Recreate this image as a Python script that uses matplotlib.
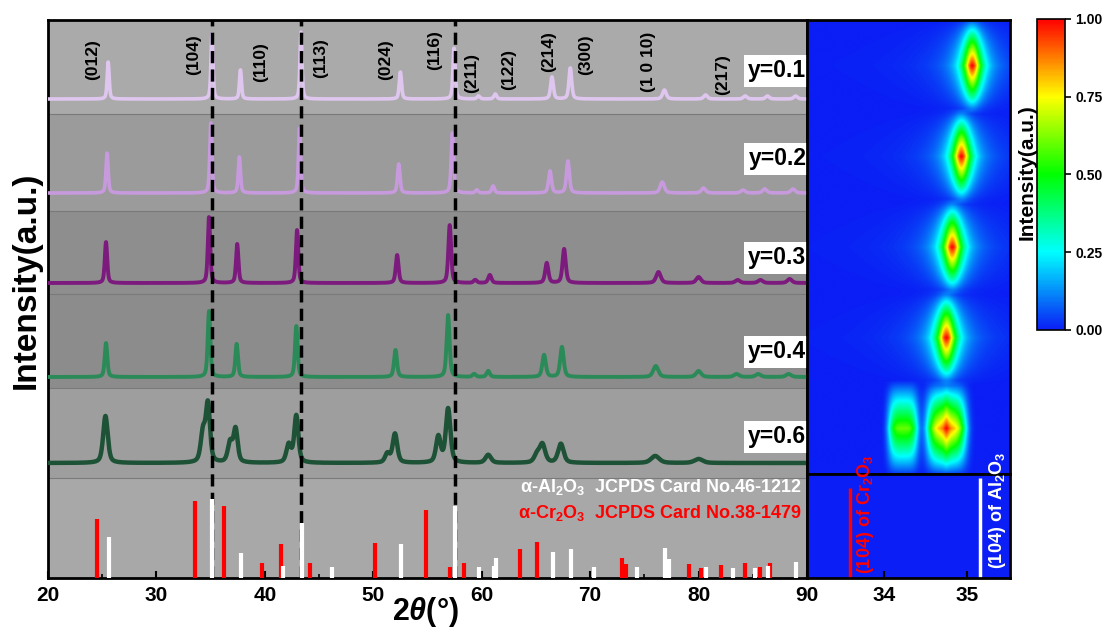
import numpy as np
import matplotlib
matplotlib.use("Agg")
import matplotlib.pyplot as plt
from matplotlib.colors import LinearSegmentedColormap
from matplotlib.cm import ScalarMappable
from matplotlib.colors import Normalize

plt.rcParams['font.family'] = ['Liberation Sans', 'DejaVu Sans']
plt.rcParams['font.weight'] = 'bold'
plt.rcParams['mathtext.fontset'] = 'custom'
plt.rcParams['mathtext.rm'] = 'Liberation Sans:bold'
plt.rcParams['mathtext.it'] = 'Liberation Sans:italic:bold'
plt.rcParams['mathtext.bf'] = 'Liberation Sans:bold'

# ---- XRD peaks (2theta, height in px, fwhm in deg)
samples = ['y=0.1', 'y=0.2', 'y=0.3', 'y=0.4', 'y=0.6']
colors = ['#dfc6ef', '#c79ade', '#7c1a7e', '#2a8a58', '#1d5236']
offsets = [479, 385, 295, 201, 115]
label_y = [507, 419, 320, 226, 141]

p01 = [25.55, 35.12, 37.75, 43.33, 52.5, 57.45, 59.7, 61.25, 66.48, 68.17, 76.85, 80.65, 84.3, 86.35, 88.95]
h01 = [37, 65, 29, 67, 27, 51, 3, 5, 22, 31, 9, 4, 3, 3, 3]
w01 = [0.22, 0.22, 0.22, 0.22, 0.25, 0.25, 0.3, 0.3, 0.3, 0.3, 0.4, 0.4, 0.4, 0.4, 0.4]

p02 = [25.45, 35.02, 37.65, 43.2, 52.35, 57.3, 59.55, 61.05, 66.3, 67.95, 76.65, 80.45, 84.1, 86.1, 88.7]
h02 = [40, 70, 36, 65, 29, 60, 3, 7, 22, 32, 11, 5, 3, 4, 4]
w02 = [0.24, 0.24, 0.24, 0.24, 0.27, 0.27, 0.3, 0.3, 0.32, 0.32, 0.45, 0.45, 0.45, 0.45, 0.45]

p03 = [25.35, 34.85, 37.45, 42.97, 52.2, 57.05, 59.4, 60.75, 66.0, 67.6, 76.3, 80.0, 83.6, 85.7, 88.4]
h03 = [41, 66, 39, 53, 28, 58, 3, 8, 20, 34, 11, 6, 3, 3, 4]
w03 = [0.26, 0.26, 0.26, 0.26, 0.3, 0.3, 0.35, 0.35, 0.35, 0.35, 0.5, 0.5, 0.5, 0.5, 0.5]

p04 = [25.35, 34.85, 37.4, 42.9, 52.05, 56.9, 59.3, 60.6, 65.75, 67.4, 76.05, 80.0, 83.5, 85.5, 88.3]
h04 = [34, 66, 33, 51, 27, 62, 3, 6, 22, 30, 11, 6, 3, 3, 3]
w04 = [0.28, 0.28, 0.28, 0.28, 0.32, 0.32, 0.35, 0.35, 0.38, 0.38, 0.55, 0.55, 0.55, 0.55, 0.55]

p06 = [25.3, 34.3, 34.75, 36.8, 37.3, 42.2, 42.9, 51.3, 52.0, 56.0, 56.9, 60.6, 65.1, 65.6, 67.3, 76.0, 80.0]
h06 = [47, 30, 57, 20, 33, 18, 47, 9, 29, 26, 54, 8, 8, 18, 19, 7, 4]
w06 = [0.5, 0.5, 0.45, 0.5, 0.45, 0.5, 0.45, 0.5, 0.5, 0.5, 0.5, 0.6, 0.6, 0.6, 0.6, 0.9, 0.9]

peaks = [(p01, h01, w01), (p02, h02, w02), (p03, h03, w03), (p04, h04, w04), (p06, h06, w06)]
line_w = [2.6, 2.6, 2.8, 2.8, 3.2]

# hkl labels
hkl = ['(012)', '(104)', '(110)', '(113)', '(024)', '(116)', '(211)', '(122)', '(214)', '(300)', '(1 0 10)', '(217)']
hkl_x = [24.1, 33.4, 39.6, 45.1, 51.1, 55.7, 59.1, 62.5, 66.2, 69.6, 75.4, 82.2]
hkl_y = [518, 523, 516, 520, 518, 528, 505, 508, 526, 523, 516, 503]

# reference cards (2theta, relative height)
al_pos = [25.6, 35.15, 37.8, 41.7, 43.4, 46.2, 52.6, 57.5, 59.75, 61.1, 61.3, 66.6, 68.2, 70.4, 74.3, 76.9, 77.25, 80.7, 83.2, 85.2, 86.4, 89.0]
al_int = [41, 79, 25, 12, 55, 11, 34, 72, 11, 12, 20, 26, 29, 11, 11, 30, 19, 11, 10, 10, 12, 16]
cr_pos = [24.5, 33.6, 36.2, 39.75, 41.5, 44.2, 50.2, 54.85, 57.1, 58.4, 63.5, 65.1, 72.9, 73.3, 76.95, 79.1, 80.2, 82.1, 84.3, 85.7, 86.6]
cr_int = [59, 77, 72, 15, 34, 15, 35, 68, 11, 15, 29, 36, 20, 14, 16, 14, 10, 13, 15, 11, 15]
dash_x = [35.15, 43.36, 57.5]

# (104) zoom map: peak centre, height, half width, shape exponent (0 = lorentzian)
hm_c = [[35.06], [34.93], [34.82], [34.75], [34.23, 34.75, 34.75]]
hm_h = [[1.0], [1.0], [1.0], [1.0], [0.6, 0.8, 0.2]]
hm_w = [[0.105], [0.105], [0.11], [0.11], [0.16, 0.21, 0.04]]
hm_p = [[0], [0], [0], [0], [4, 4, 0]]
cr104, al104 = 33.59, 35.15


def profile(x, pos, hgt, fw):
    y = np.zeros_like(x)
    for p, h, w in zip(pos, hgt, fw):
        d = (x - p) / w
        y += h * (0.5 * np.exp(-4 * np.log(2) * d ** 2) + 0.5 / (1 + 4 * d ** 2))
    return y


fig = plt.figure(figsize=(11.09, 6.37), dpi=100)
ax = fig.add_axes([48 / 1109, 1 - 578 / 637, 759 / 1109, 558 / 637])
ax_hm = fig.add_axes([807 / 1109, 1 - 474 / 637, 203 / 1109, 454 / 637])
ax_lo = fig.add_axes([807 / 1109, 1 - 578 / 637, 203 / 1109, 104 / 637])
cax = fig.add_axes([1037 / 1109, 1 - 330 / 637, 28 / 1109, 311 / 637])
for a in (ax_hm, ax_lo):
    a.set_zorder(3)

# gray bands
bands = [(0, 100, '#a8a8a8'), (100, 190, '#9e9e9e'), (190, 284, '#8c8c8c'),
         (284, 367, '#8e8e8e'), (367, 464, '#9b9b9b'), (464, 558, '#aaaaaa')]
for b0, b1, c in bands:
    ax.axhspan(b0, b1, color=c, lw=0, zorder=0)
for b in [100, 190, 284, 367, 464]:
    ax.axhline(b, color='#7a7a7a', lw=0.8, zorder=1)

x = np.linspace(20, 90, 4000)
for (p, h, w), off, c, lw in zip(peaks, offsets, colors, line_w):
    ax.plot(x, off + profile(x, p, h, w), color=c, lw=lw, zorder=3)

for xd in dash_x:
    ax.axvline(xd, color='k', lw=2.5, ls=(0, (3.5, 1.8)), zorder=4)

ax.vlines(cr_pos, 0, cr_int, colors='#ff0000', lw=3, zorder=5)
ax.vlines(al_pos, 0, al_int, colors='white', lw=3, zorder=5)

for t, xx, yy in zip(hkl, hkl_x, hkl_y):
    ax.text(xx, yy, t, rotation=90, ha='center', va='center', fontsize=12.5, fontweight='bold', zorder=6)

for s, ly in zip(samples, label_y):
    ax.text(89.95, ly, s, ha='right', va='center', fontsize=16.5, fontweight='bold', zorder=7,
            bbox=dict(facecolor='white', edgecolor='none', pad=3), clip_on=False)

ax.text(89.5, 91, 'α-Al$_2$O$_3$  JCPDS Card No.46-1212', color='white', ha='right', va='center',
        fontsize=13, fontweight='bold', zorder=6)
ax.text(89.5, 65, 'α-Cr$_2$O$_3$  JCPDS Card No.38-1479', color='#ff0000', ha='right', va='center',
        fontsize=13, fontweight='bold', zorder=6)

ax.set_xlim(20, 90)
ax.set_ylim(0, 558)
ax.set_xticks(range(20, 91, 10))
ax.set_xticks(range(25, 90, 10), minor=True)
ax.set_yticks([])
ax.tick_params(axis='x', direction='in', length=5, width=1.5, labelsize=15, pad=6)
ax.tick_params(axis='x', which='minor', direction='in', length=3, width=1.2)
for lab in ax.get_xticklabels():
    lab.set_fontweight('bold')
for sp in ax.spines.values():
    sp.set_linewidth(2)

# heatmap of the (104) region
cmap = LinearSegmentedColormap.from_list('rainbow_o', [(0, '#0a1ef5'), (0.25, '#00ffff'), (0.5, '#00ff00'),
                                                      (0.75, '#ffff00'), (1, '#ff0000')])
x0, x1 = 33.08, 35.51
hx = np.linspace(x0, x1, 500)
hy = np.linspace(0, 5, 600)
Z = np.zeros((len(hy), len(hx)))
for k in range(5):
    row = np.zeros_like(hx)
    for c, h, w, pw in zip(hm_c[k], hm_h[k], hm_w[k], hm_p[k]):
        d = np.abs(hx - c) / w
        row += h * (1 / (1 + d ** 2) if pw == 0 else np.exp(-np.log(2) * d ** pw))
    row /= row.max()
    v = np.clip(1 - np.abs(hy - (k + 0.5)) / 0.53, 0, None)
    Z += v[:, None] * row[None, :]
ax_hm.imshow(np.clip(Z, 0, 1), extent=(x0, x1, 5, 0), aspect='auto', cmap=cmap, vmin=0, vmax=1,
             interpolation='bilinear')
ax_hm.set_xlim(x0, x1)
ax_hm.set_ylim(5, 0)
ax_hm.set_xticks([])
ax_hm.set_yticks([])

ax_lo.set_facecolor(cmap(0.0))
ax_lo.set_xlim(x0, x1)
ax_lo.set_ylim(0, 1)
ax_lo.vlines([cr104], 0, 0.865, colors='#ff0000', lw=2.5)
ax_lo.vlines([al104], 0, 0.96, colors='white', lw=2.5)
ax_lo.text(33.78, 0.04, r'(104) of Cr$_2$O$_3$', color='#ff0000', rotation=90, ha='center', va='bottom',
           fontsize=13, fontweight='bold', clip_on=False, zorder=6)
ax_lo.text(35.36, 0.09, r'(104) of Al$_2$O$_3$', color='white', rotation=90, ha='center', va='bottom',
           fontsize=13, fontweight='bold', clip_on=False, zorder=6)
ax_lo.set_xticks([34, 35])
ax_lo.set_yticks([])
ax_lo.tick_params(axis='x', direction='in', length=5, width=1.5, labelsize=15, pad=6)
for lab in ax_lo.get_xticklabels():
    lab.set_fontweight('bold')
for a in (ax_hm, ax_lo):
    for sp in a.spines.values():
        sp.set_linewidth(2)

# colour bar
sm = ScalarMappable(norm=Normalize(0, 1), cmap=cmap)
cb = fig.colorbar(sm, cax=cax, ticks=[0, 0.25, 0.5, 0.75, 1.0], format='%.2f')
cb.outline.set_linewidth(1.2)
cax.tick_params(labelsize=10, length=4, width=1.2)
for lab in cax.get_yticklabels():
    lab.set_fontweight('bold')

fig.text(26 / 1109, 1 - 280 / 637, 'Intensity(a.u.)', rotation=90, ha='center', va='center',
         fontsize=24, fontweight='bold')
fig.text(425 / 1109, 1 - 612 / 637, r'2$\theta$(°)', ha='center', va='center', fontsize=22, fontweight='bold')
fig.text(1027 / 1109, 1 - 172 / 637, 'Intensity(a.u.)', rotation=90, ha='center', va='center',
         fontsize=15, fontweight='bold')

fig.savefig('out.png', dpi=100)
